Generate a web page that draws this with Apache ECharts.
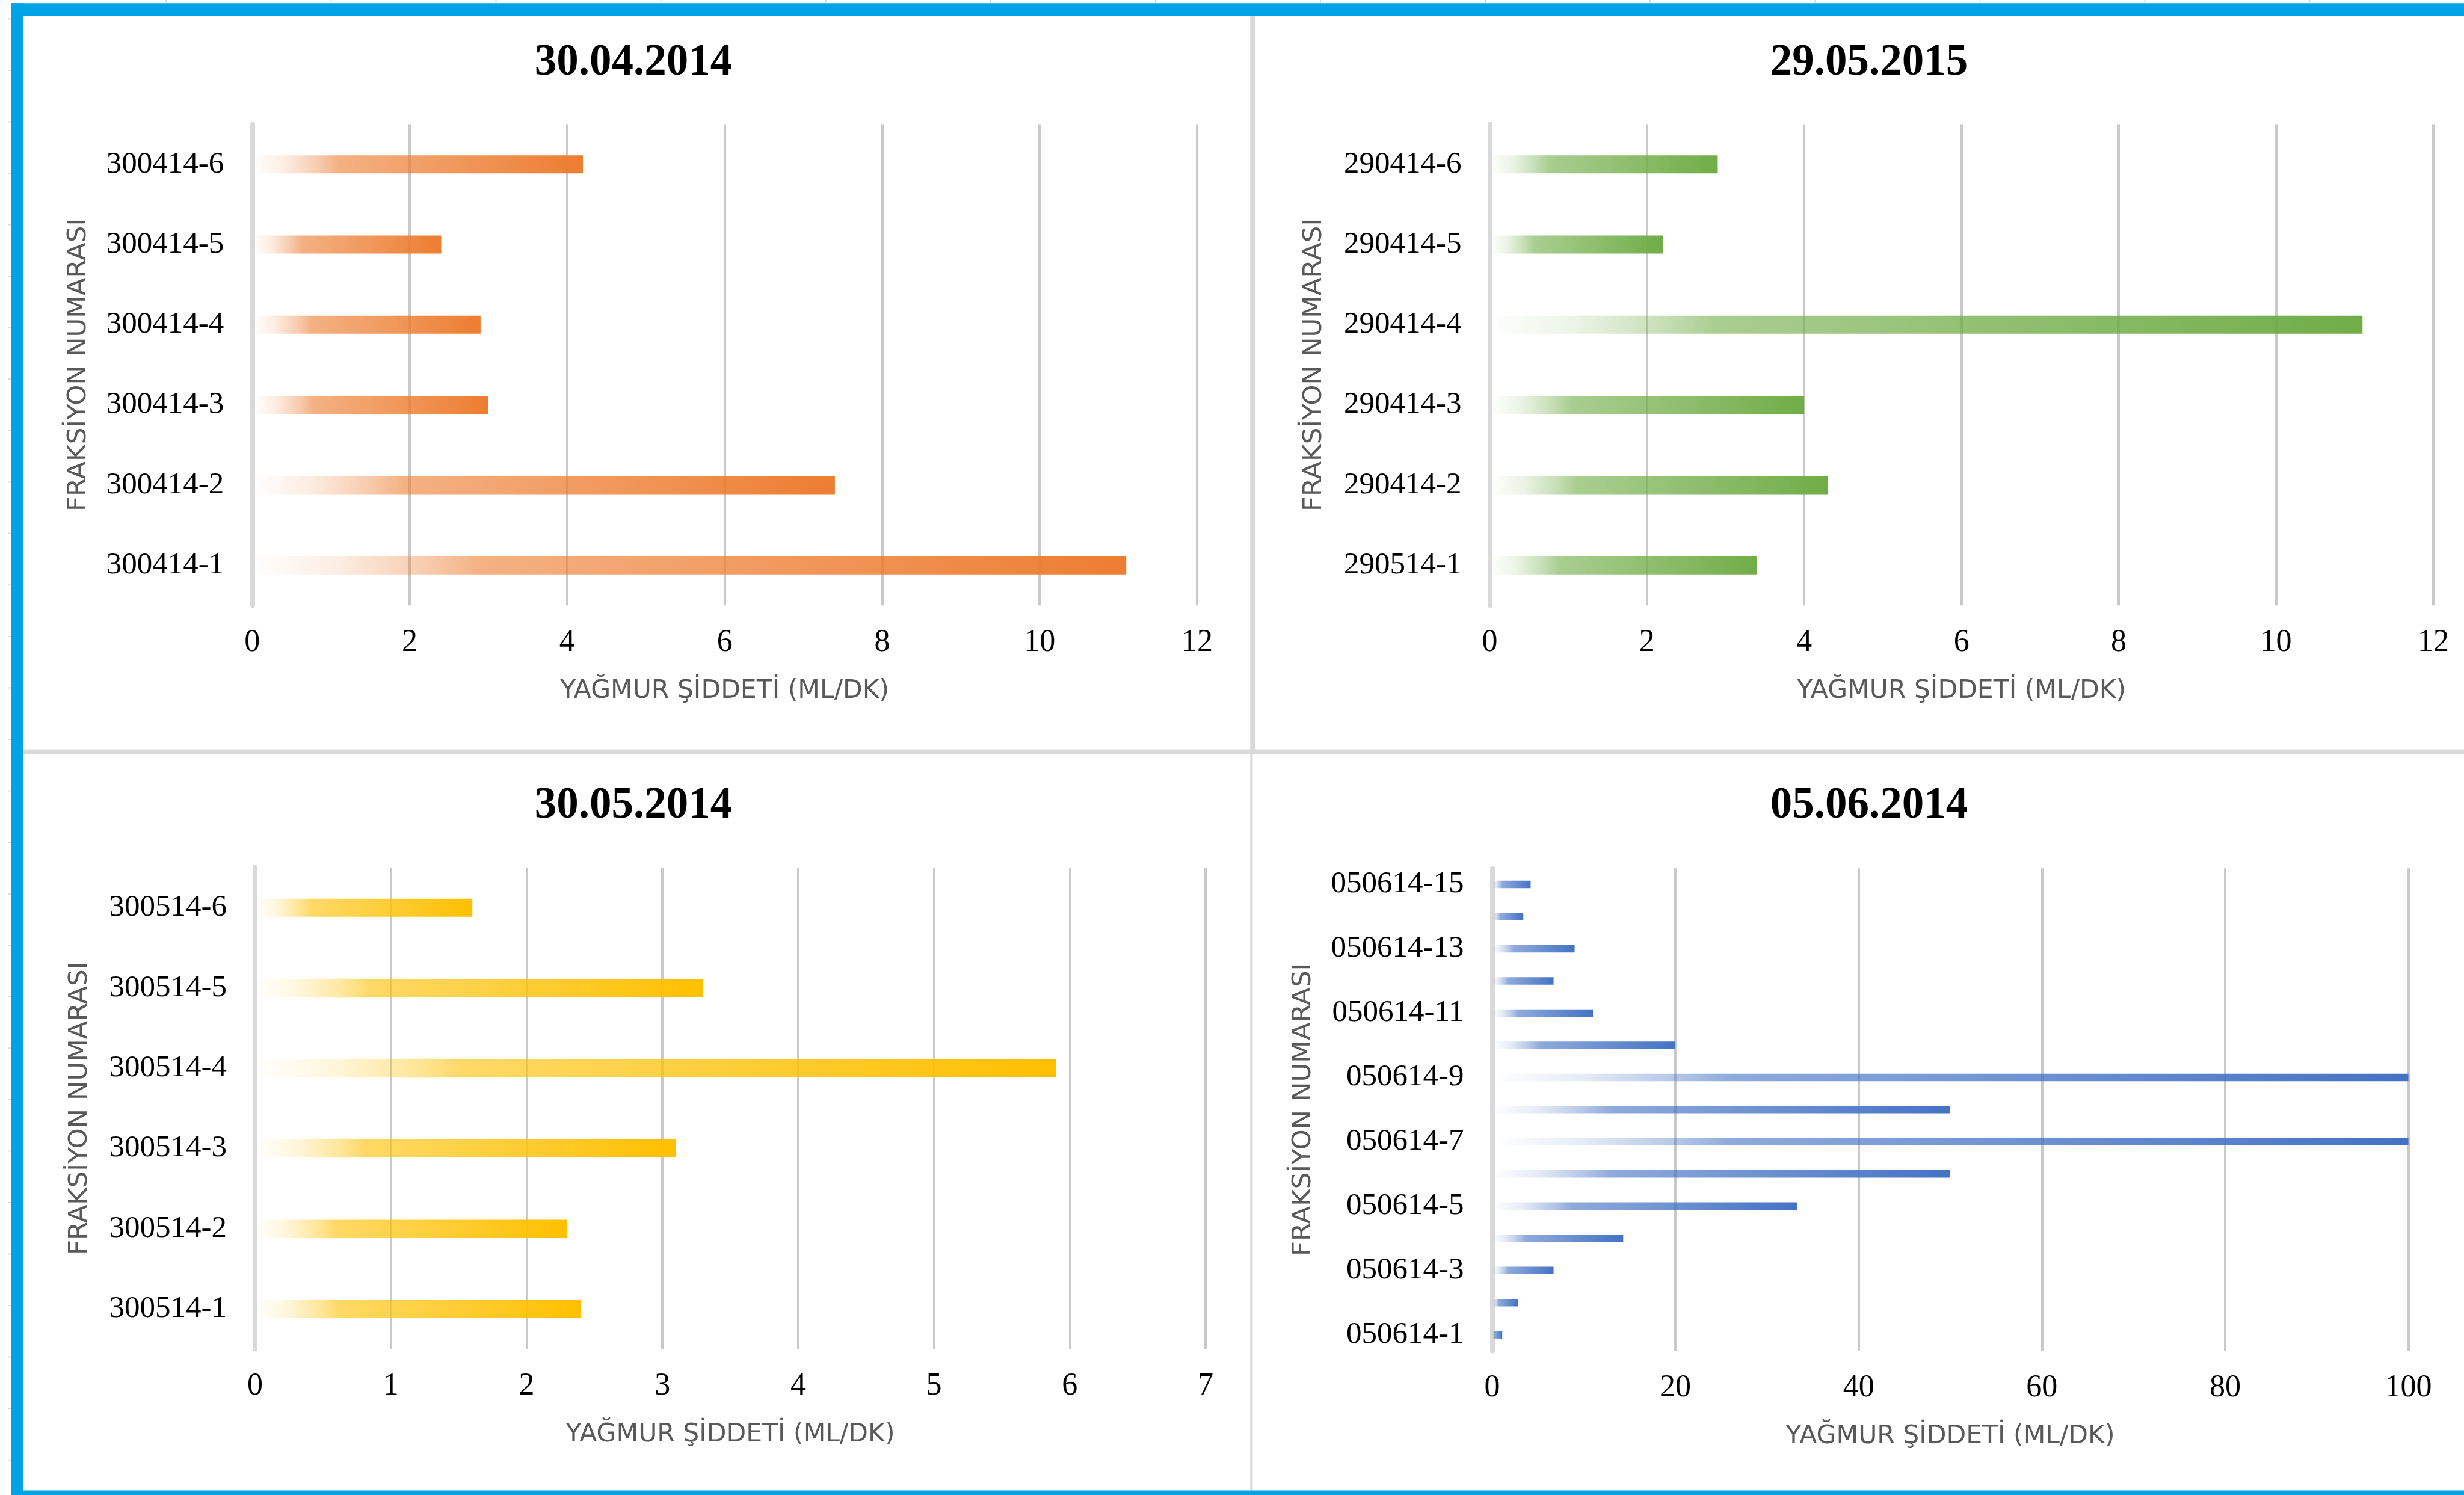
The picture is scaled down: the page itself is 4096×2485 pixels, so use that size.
<!DOCTYPE html>
<html>
<head>
<meta charset="utf-8">
<script src="https://cdn.jsdelivr.net/npm/echarts@6/dist/echarts.min.js"></script>
<style>
  html, body { margin: 0; padding: 0; background: #ffffff; }
  #chart { width: 4096px; height: 2485px; }
</style>
</head>
<body>
<div id="chart"></div>
<script>
// ---- data -------------------------------------------------------------
// 30.04.2014 fractions (bottom to top)
const cat1 = ['300414-1', '300414-2', '300414-3', '300414-4', '300414-5', '300414-6'];
const val1 = [11.1, 7.4, 3.0, 2.9, 2.4, 4.2];

// 29.05.2015 fractions
const cat2 = ['290514-1', '290414-2', '290414-3', '290414-4', '290414-5', '290414-6'];
const val2 = [3.4, 4.3, 4.0, 11.1, 2.2, 2.9];

// 30.05.2014 fractions
const cat3 = ['300514-1', '300514-2', '300514-3', '300514-4', '300514-5', '300514-6'];
const val3 = [2.4, 2.3, 3.1, 5.9, 3.3, 1.6];

// 05.06.2014 fractions
const cat4 = ['050614-1', '050614-2', '050614-3', '050614-4', '050614-5',
              '050614-6', '050614-7', '050614-8', '050614-9', '050614-10',
              '050614-11', '050614-12', '050614-13', '050614-14', '050614-15'];
const val4 = [1.1, 2.8, 6.7, 14.3, 33.3, 50, 100, 50, 100, 20, 11, 6.7, 9.0, 3.4, 4.2];

const titles = ['30.04.2014', '29.05.2015', '30.05.2014', '05.06.2014'];
const xMax = [12, 12, 7, 100];
const xStep = [2, 2, 1, 20];
const xName = 'YAĞMUR ŞİDDETİ (ML/DK)';
const yName = 'FRAKSİYON NUMARASI';

// ---- styling / layout -------------------------------------------------
const categories = [cat1, cat2, cat3, cat4];
const values = [val1, val2, val3, val4];
const colors = ['#ED7D31', '#70AD47', '#FFC000', '#4472C4'];

const grids = [
  { left: 419.3, top: 206.6, width: 1570.7, height: 799.7 },
  { left: 2476.4, top: 206.6, width: 1568.5, height: 799.7 },
  { left: 424.1, top: 1442.1, width: 1579.9, height: 800.5 },
  { left: 2480.5, top: 1443.3, width: 1523.1, height: 802.1 }
];
const yNameGap = [267, 270, 269, 292];
const barWidths = [30, 30, 30, 12.5];
const titlePos = [[1053, 105], [3107, 105], [1053, 1340], [3107, 1340]];

function rgba(hex, a) {
  const n = parseInt(hex.slice(1), 16);
  return 'rgba(' + (n >> 16) + ',' + ((n >> 8) & 255) + ',' + (n & 255) + ',' + a + ')';
}
// fades in from the axis toward the bar end
function barFill(hex) {
  return new echarts.graphic.LinearGradient(0, 0, 1, 0, [
    { offset: 0, color: rgba(hex, 0) },
    { offset: 0.1, color: rgba(hex, 0.14) },
    { offset: 0.2, color: rgba(hex, 0.4) },
    { offset: 0.26, color: rgba(hex, 0.6) },
    { offset: 1, color: rgba(hex, 1) }
  ]);
}

const serif = '"Liberation Serif", "Times New Roman", serif';
const sans = '"DejaVu Sans", Verdana, sans-serif';

const option = {
  backgroundColor: '#ffffff',
  animation: false,
  grid: grids.map(g => Object.assign({ containLabel: false, outerBoundsMode: 'none' }, g)),
  xAxis: grids.map((g, i) => ({
    type: 'value',
    gridIndex: i,
    min: 0,
    max: xMax[i],
    interval: xStep[i],
    axisLine: { show: false },
    axisTick: { show: false },
    splitLine: { show: true, showMinLine: false, lineStyle: { color: '#C9C9C9', width: 4 } },
    axisLabel: { fontFamily: serif, fontSize: 52, color: '#000000', margin: 36 },
    name: xName,
    nameLocation: 'middle',
    nameGap: 121,
    nameTextStyle: { fontFamily: sans, fontSize: 42.5, color: '#595959' }
  })),
  yAxis: grids.map((g, i) => ({
    type: 'category',
    gridIndex: i,
    data: categories[i],
    axisLine: { show: true, lineStyle: { color: '#D9D9D9', width: 8 } },
    axisTick: { show: false },
    axisLabel: Object.assign(
      { fontFamily: serif, fontSize: 51, color: '#000000', margin: 47 },
      i === 3 ? { interval: 1 } : {}
    ),
    name: yName,
    nameLocation: 'middle',
    nameGap: yNameGap[i],
    nameTextStyle: { fontFamily: sans, fontSize: 43.5, color: '#595959' }
  })),
  series: values.map((v, i) => ({
    type: 'bar',
    xAxisIndex: i,
    yAxisIndex: i,
    data: v,
    barWidth: barWidths[i],
    itemStyle: { color: barFill(colors[i]) }
  })),
  graphic: { elements: [] }
};

const els = option.graphic.elements;

// faint worksheet cell lines peeking out around the frame
for (let k = 0; k < 14; k++) {
  els.push({ type: 'rect', shape: { x: 275.3 + 274.1 * k, y: 0, width: 2, height: 5 },
             style: { fill: '#DADADA' }, silent: true });
}
for (let k = 0; k < 29; k++) {
  els.push({ type: 'rect', shape: { x: 13.4, y: 30.3 + 85.55 * k, width: 4.6, height: 2 },
             style: { fill: '#DADADA' }, silent: true });
}

// panel dividers
els.push({ type: 'rect', shape: { x: 39, y: 1245.5, width: 4100, height: 8.1 }, style: { fill: '#D9D9D9' }, silent: true });
els.push({ type: 'rect', shape: { x: 2078.3, y: 26.8, width: 8.8, height: 1219 }, style: { fill: '#D9D9D9' }, silent: true });
els.push({ type: 'rect', shape: { x: 2078.3, y: 1253.6, width: 4.1, height: 1225 }, style: { fill: '#D9D9D9' }, silent: true });

// blue frame
els.push({ type: 'rect', shape: { x: 18, y: 5.2, width: 4100, height: 21.6 }, style: { fill: '#00A4E6' }, silent: true, z: 10 });
els.push({ type: 'rect', shape: { x: 18, y: 5.2, width: 21, height: 2485 }, style: { fill: '#00A4E6' }, silent: true, z: 10 });
els.push({ type: 'rect', shape: { x: 18, y: 2477.6, width: 4100, height: 8 }, style: { fill: '#00A4E6' }, silent: true, z: 10 });

// chart titles
titles.forEach((t, i) => {
  els.push({
    type: 'text',
    x: titlePos[i][0],
    y: titlePos[i][1],
    style: {
      text: t,
      font: 'bold 73px ' + serif,
      fill: '#000000',
      align: 'center',
      verticalAlign: 'middle'
    },
    silent: true
  });
});

const chart = echarts.init(document.getElementById('chart'), null, { renderer: 'canvas' });
chart.setOption(option);
</script>
</body>
</html>
